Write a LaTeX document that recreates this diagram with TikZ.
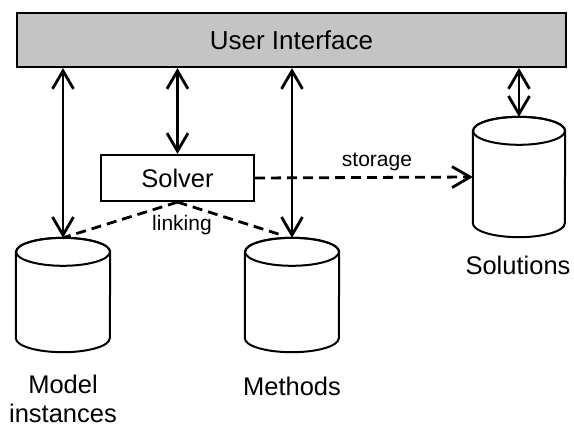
\documentclass[tikz,border=0pt]{standalone}
\usepackage{fontspec}
\setmainfont{Liberation Sans}
\usetikzlibrary{arrows.meta,calc}
\begin{document}
\begin{tikzpicture}[x=1pt,y=1pt,
  uibox/.style={draw, line width=2.2pt, fill=black!23, minimum width=549pt, minimum height=54pt, inner sep=0pt, font=\fontsize{26}{30}\selectfont},
  solverbox/.style={draw, line width=2.2pt, fill=white, minimum width=153pt, minimum height=46pt, inner sep=0pt, font=\fontsize{25.5}{30}\selectfont},
  cylbox/.style={rectangle, inner sep=0pt, minimum width=#1, minimum height=114pt},
  lbl/.style={font=\fontsize{25.5}{29}\selectfont, align=center, inner sep=0pt},
  small/.style={font=\fontsize{21}{25}\selectfont, inner sep=0pt},
  tipv/.tip={Straight Barb[length=18pt,width=21pt]},
  dbl/.style={line width=2.8pt, tipv-tipv},
  dashline/.style={line width=2.8pt, dash pattern=on 10pt off 6pt},
  cylline/.style={line width=2pt, fill=white}
]
\useasboundingbox (0,0) rectangle (574,-429);

\node[uibox] (ui) at (291.5,-40) {User Interface};
\node[solverbox] (solver) at (177.5,-178) {Solver};
\node[cylbox=94pt] (model) at (63,-295) {};
\node[cylbox=94pt] (methods) at (292,-295) {};
\node[cylbox=92pt, minimum height=120pt] (solutions) at (519,-177) {};

\newcommand{\drawcyl}[3]{% name, rx, ry
  \draw[cylline] ($(#1.north west)+(0,-#3)$) -- ($(#1.south west)+(0,#3)$)
    arc[start angle=180, end angle=360, x radius=#2, y radius=#3]
    -- ($(#1.north east)+(0,-#3)$)
    arc[start angle=0, end angle=180, x radius=#2, y radius=#3] -- cycle;
  \draw[line width=2pt] ($(#1.north)+(0,-#3)$) ellipse[x radius=#2, y radius=#3];
}
\drawcyl{model}{47pt}{14pt}
\drawcyl{methods}{47pt}{14pt}
\drawcyl{solutions}{46pt}{14pt}

\node[lbl] (modellbl) at (63,-399) {Model\\instances};
\node[lbl] (methodslbl) at (292,-386) {Methods};
\node[lbl] (solutionslbl) at (518,-265) {Solutions};
\node[small] (storagelbl) at (377,-162) {storage};
\node[small] (linkinglbl) at (182,-225) {linking};

\draw[dbl] (model.north |- ui.south) -- (model.north);
\draw[dbl] (solver.north |- ui.south) -- (solver.north);
\draw[dbl] (methods.north |- ui.south) -- (methods.north);
\draw[dbl] (solutions.north |- ui.south) -- (solutions.north);

\draw[dashline, -tipv] (solver.east) -- (solutions.west);
\draw[dashline] (solver.south) -- (model.north);
\draw[dashline] (solver.south) -- ($(methods.north)+(-8,2)$);
\end{tikzpicture}
\end{document}
